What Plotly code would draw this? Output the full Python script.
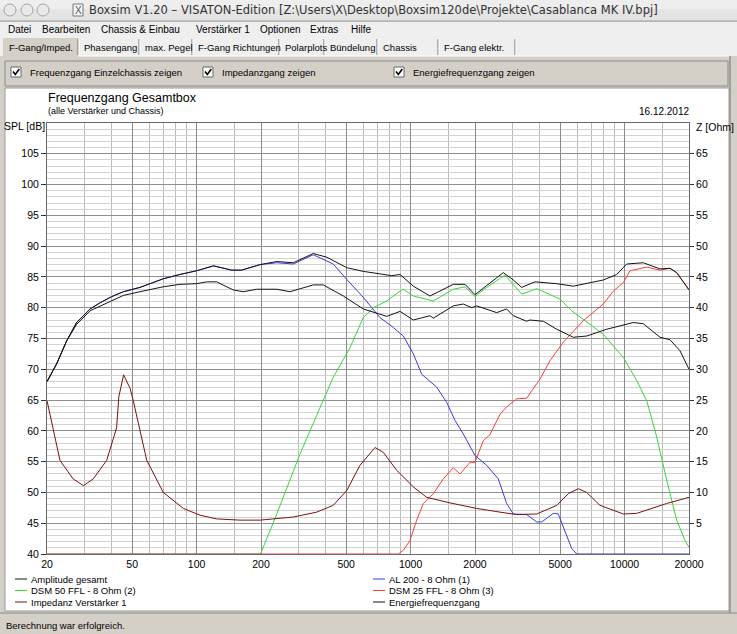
import math
import plotly.graph_objects as go

# curves: frequency in Hz, level in dB, impedance in Ohm
amp_f = [20, 22.2, 24.7, 27.5, 31.8, 35.4, 40.1, 45.5, 54.4, 69.9, 83.6, 100, 120, 146, 162, 198, 237, 283,
         351, 406, 503, 601, 719, 816, 893, 1030, 1232, 1372, 1584, 1796, 2000, 2268, 2712, 3020, 3306, 3816,
         4820, 5760, 7950, 9190, 10230, 12230, 14640, 16300, 17520, 20000]
amp_db = [68, 70.9, 74.6, 77.6, 79.8, 80.8, 81.8, 82.6, 83.3, 84.7, 85.4, 86, 86.8, 86.1, 86.1, 87, 87.5, 87.3,
          88.8, 88.2, 86.5, 85.9, 85.5, 85.2, 85.4, 83.5, 81.9, 82.7, 83.8, 83.8, 82.1, 83.6, 85.7, 84.5, 83.3, 84.2,
          83.9, 83.5, 84.5, 85.4, 87.1, 87.3, 86.3, 86.4, 85.7, 82.9]

ene_f = [20, 22.2, 24.7, 27.5, 31.8, 40.1, 45.5, 54.4, 69.9, 83.6, 100, 111.5, 124, 148, 165, 191, 237, 273,
         351, 391, 485, 601, 774, 893, 1030, 1232, 1277, 1584, 1763, 1930, 2038, 2526, 2812, 3020, 3488, 3614,
         4170, 4820, 5760, 6650, 8250, 10980, 12230, 14640, 16300, 18160, 20000]
ene_db = [68, 70.9, 74.6, 77.3, 79.5, 81.2, 82, 82.6, 83.4, 83.8, 83.9, 84.2, 84.2, 82.9, 82.6, 83, 83, 82.6,
          83.7, 83.7, 81.9, 79.8, 78.6, 79.4, 78, 78.7, 78.3, 80.3, 80.6, 80.0, 80.3, 79.2, 79.8, 78.7, 77.8, 78,
          77.8, 76.5, 75.2, 75.4, 76.5, 77.6, 77.4, 75.2, 74.8, 73, 70]

al200_f = [20, 22.2, 24.7, 27.5, 31.8, 35.4, 40.1, 45.5, 54.4, 69.9, 83.6, 100, 120, 146, 162, 198, 237, 283,
           351, 435, 503, 601, 719, 830, 925, 1030, 1127, 1324, 1476, 1613, 1763, 2000, 2268, 2570, 2812, 3020,
           3488, 3886, 4100, 4644, 4900, 5268, 5660, 5976, 20000]
al200_db = [68, 70.9, 74.6, 77.6, 79.8, 80.8, 81.8, 82.6, 83.3, 84.7, 85.4, 86, 86.8, 86.1, 86.1, 87, 87.3, 87.1,
            88.6, 87.1, 84.6, 81.7, 78.4, 76.8, 75.4, 72.5, 69.2, 67.1, 64.6, 61.7, 59.5, 56, 54.4, 52.2, 48.2, 46.5,
            46.4, 45.2, 45.2, 46.6, 46.5, 43.8, 40.9, 40, 40]

dsm50_f = [20, 199, 237, 304, 364, 435, 521, 601, 670, 774, 893, 925, 1030, 1277, 1584, 1796, 2000, 2268, 2760,
           3020, 3306, 3886, 4990, 5660, 6890, 7950, 9870, 11390, 12690, 14130, 15730, 17520, 19160, 20000]
dsm50_db = [40, 40, 46.5, 56.2, 62.5, 68.7, 73.5, 78.4, 80, 81.1, 82.7, 83, 81.9, 81.1, 83, 83.4, 81.8, 83.3, 85.3,
            83.8, 82.2, 83.1, 81.4, 79.5, 77.3, 75.7, 71.9, 68.2, 64.9, 59, 52, 45.5, 42.2, 41.1]

dsm25_f = [20, 876, 925, 994, 1068, 1147, 1277, 1422, 1584, 1702, 1896, 2000, 2187, 2350, 2618, 2812, 3132, 3488,
           3682, 4024, 4482, 5172, 6414, 7950, 8860, 9870, 10600, 12690, 14640, 16300, 17520, 20000]
dsm25_db = [40, 40, 40.6, 42.2, 45.5, 48.2, 49.8, 52.2, 54, 53, 54.9, 54.9, 58.4, 59.4, 62.7, 63.9, 65.2, 65.3,
            66.5, 68.4, 71.4, 74.4, 77.9, 80.6, 82.7, 84.1, 86, 86.6, 86.1, 86.4, 85.7, 82.9]

imp_f = [20, 21.5, 23, 26.5, 29.6, 32.9, 38, 42.3, 43.3, 45.6, 48.9, 50.6, 58.5, 69.9, 86.7, 103.8, 124, 159.5, 198,
         283, 364, 435, 503, 580, 682, 746, 861, 1030, 1189, 1528, 2038, 2618, 3132, 3886, 4820, 5458, 6078, 6650,
         7676, 9870, 11390, 15730, 20000]
imp_ohm = [24.9, 20, 15.2, 12.2, 11.1, 12.2, 15.2, 20.5, 25.5, 29.1, 26.9, 24.9, 15.2, 10, 7.4, 6.3, 5.7, 5.5, 5.5,
           6, 6.8, 7.9, 10.3, 14.4, 17.3, 16.5, 13.6, 10.9, 9.2, 8.3, 7.4, 6.8, 6.4, 6.5, 7.9, 9.8, 10.6, 10,
           7.9, 6.5, 6.6, 8.2, 9.2]

freq_ticks = [20, 50, 100, 200, 500, 1000, 2000, 5000, 10000, 20000]
freq_minor = [30, 40, 60, 70, 80, 90, 150, 300, 400, 600, 700, 800, 900, 1500, 3000, 4000, 6000, 7000, 8000,
              9000, 15000]
spl_ticks = list(range(40, 110, 5))
z_ticks = list(range(5, 70, 5))

menu_items = ["Datei", "Bearbeiten", "Chassis & Einbau", "Verstärker 1", "Optionen", "Extras", "Hilfe"]
tab_items = ["F-Gang/Imped.", "Phasengang", "max. Pegel", "F-Gang Richtungen", "Polarplots", "Bündelung",
             "Chassis", "F-Gang elektr."]
check_items = ["Frequenzgang Einzelchassis zeigen", "Impedanzgang zeigen", "Energiefrequenzgang zeigen"]

W, H = 737, 634
L, R, T, B = 47, 48, 123, 80
PW, PH = W - L - R, H - T - B
FONT = "Liberation Sans, Arial, sans-serif"
GRAY = "#d4d0c8"


def px(x):
    return (x - L) / PW


def py(y):
    return (H - B - y) / PH


shapes = []
notes = []


def rect(x0, y0, x1, y1, fill, line=None, layer="below"):
    shapes.append(dict(type="rect", xref="paper", yref="paper", x0=px(x0), x1=px(x1), y0=py(y1), y1=py(y0),
                       fillcolor=fill, line=dict(color=line or fill, width=1 if line else 0), layer=layer))


def hline(x0, x1, y, color):
    shapes.append(dict(type="line", xref="paper", yref="paper", x0=px(x0), x1=px(x1), y0=py(y), y1=py(y),
                       line=dict(color=color, width=1), layer="below"))


def vline(x, y0, y1, color, layer="below"):
    shapes.append(dict(type="line", xref="paper", yref="paper", x0=px(x), x1=px(x), y0=py(y0), y1=py(y1),
                       line=dict(color=color, width=1), layer=layer))


def text(x, y, s, size=9.5, anchor="left", color="#000000", family=FONT):
    notes.append(dict(xref="paper", yref="paper", x=px(x), y=py(y), text=s, showarrow=False, xanchor=anchor,
                      yanchor="middle", font=dict(size=size, color=color, family=family)))


# window chrome
rect(0, 0, W, 21, "#e4e4e4")
rect(0, 0, W, 9, "#eeeeee")
hline(0, W, 21, "#9c9c9c")
for cx in [10, 27, 43]:
    shapes.append(dict(type="circle", xref="paper", yref="paper", x0=px(cx - 6), x1=px(cx + 6),
                       y0=py(16), y1=py(4), fillcolor="#e9e9e9", line=dict(color="#a4a4a4", width=1), layer="below"))
rect(73, 4, 83, 16, "#f4f4f4", "#777777")
text(78, 10.5, "X", size=10, anchor="center", color="#555555")
text(87, 10.5, r"Boxsim V1.20 – VISATON-Edition [Z:\Users\X\Desktop\Boxsim120de\Projekte\Casablanca MK IV.bpj]",
     size=11.5, color="#333333", family="DejaVu Sans")

rect(0, 22, W, 56, "#efefef")
menu_x = [6, 40, 99, 194, 258, 308, 349]
for mx, item in zip(menu_x, menu_items):
    text(mx, 29.5, item, size=10)

tab_edges = [3, 78, 139, 192, 279, 324, 377, 438, 515]
rect(0, 56, W, 613, GRAY)
rect(3, 38, 78, 57, GRAY)
for i, item in enumerate(tab_items):
    x0, x1 = tab_edges[i], tab_edges[i + 1]
    vline(x1, 39, 55, "#6f6f6f")
    vline(x1 + 1, 39, 55, "#ffffff")
    text(x0 + 4, 47, item, size=9.5)
hline(78, 730, 56, "#ffffff")
vline(730, 56, 613, "#6f6f6f")

# checkbox group
rect(5, 61, 728, 86, GRAY, "#8a8a8a")
check_x = [11, 203, 394]
for cx, item in zip(check_x, check_items):
    rect(cx, 67, cx + 10, 77, "#ffffff", "#666666")
    shapes.append(dict(type="path", xref="paper", yref="paper", layer="above",
                       path="M {:.5f},{:.5f} L {:.5f},{:.5f} L {:.5f},{:.5f}".format(
                           px(cx + 2), py(71.5), px(cx + 4.3), py(74.5), px(cx + 8.3), py(69)),
                       line=dict(color="#000000", width=1.6)))
    text(cx + 17, 72.5, item, size=9.5)

# white chart panel
rect(5, 88, 729, 611, "#ffffff", "#9a9a9a")
rect(0, 613, W, H, GRAY)
hline(0, W, 613, "#8a8a8a")
text(4, 625, "Berechnung war erfolgreich.", size=9.5)

text(46, 98, "Frequenzgang Gesamtbox", size=12.5)
text(46, 111, "(alle Verstärker und Chassis)", size=9)
text(691, 111, "16.12.2012", size=10, anchor="right")
text(2, 126.5, "SPL [dB]", size=10.5)
text(694, 127, "Z [Ohm]", size=10.5)

fig = go.Figure()

curves = [
    (dsm50_f, dsm50_db, "DSM 50 FFL - 8 Ohm (2)", "#35d935", "y"),
    (dsm25_f, dsm25_db, "DSM 25 FFL - 8 Ohm (3)", "#ff3c3c", "y"),
    (al200_f, al200_db, "AL 200 - 8 Ohm (1)", "#3c3ce0", "y"),
    (ene_f, ene_db, "Energiefrequenzgang", "#141414", "y"),
    (amp_f, amp_db, "Amplitude gesamt", "#141414", "y"),
    (imp_f, imp_ohm, "Impedanz Verstärker 1", "#7e1010", "y2"),
]
for f, v, name, color, axis in curves:
    fig.add_trace(go.Scatter(x=f, y=v, name=name, yaxis=axis, mode="lines",
                             line=dict(color=color, width=1), showlegend=False, hoverinfo="skip"))

# legend drawn like the Boxsim one: two columns, three rows
legend_order = ["Amplitude gesamt", "DSM 50 FFL - 8 Ohm (2)", "Impedanz Verstärker 1",
                "AL 200 - 8 Ohm (1)", "DSM 25 FFL - 8 Ohm (3)", "Energiefrequenzgang"]
colors = {c[2]: c[3] for c in curves}
for i, name in enumerate(legend_order):
    col, row = divmod(i, 3)
    lx = 15 if col == 0 else 373
    ly = 579 + row * 11.5
    hline(lx, lx + 12, ly, colors[name])
    text(lx + 14, ly, name, size=9.5)

fig.update_layout(
    width=W, height=H,
    margin=dict(l=L, r=R, t=T, b=B),
    paper_bgcolor=GRAY,
    plot_bgcolor="#ffffff",
    showlegend=False,
    hovermode=False,
    shapes=shapes,
    annotations=notes,
    font=dict(family=FONT, size=10.5, color="#000000"),
    xaxis=dict(type="log", range=[math.log10(20), math.log10(20000)],
               tickvals=freq_ticks, ticktext=[str(t) for t in freq_ticks],
               showgrid=True, gridcolor="#8a8a8a", gridwidth=1,
               minor=dict(tickvals=freq_minor, showgrid=True, gridcolor="#bababa", ticks=""),
               showline=True, linecolor="#6a6a6a", mirror=True, ticks="", zeroline=False,
               tickfont=dict(size=10.5)),
    yaxis=dict(range=[40, 110], tickvals=spl_ticks, ticks="outside", ticklen=5, tickcolor="#333333",
               showgrid=True, gridcolor="#909090", gridwidth=1,
               minor=dict(dtick=1, tick0=40, showgrid=True, gridcolor="#d2d2d2", ticks=""),
               showline=True, linecolor="#6a6a6a", mirror=True, zeroline=False,
               tickfont=dict(size=10.5)),
    yaxis2=dict(range=[0, 70], overlaying="y", side="right", tickvals=z_ticks, ticks="outside", ticklen=4,
                tickcolor="#333333", showgrid=False, zeroline=False, showline=False,
                tickfont=dict(size=10.5)),
)

# the page's default body margin would push the 737x634 figure off the window
fig.write_html("out.html", config={"displayModeBar": False},
               post_script="document.body.style.margin='0';")
